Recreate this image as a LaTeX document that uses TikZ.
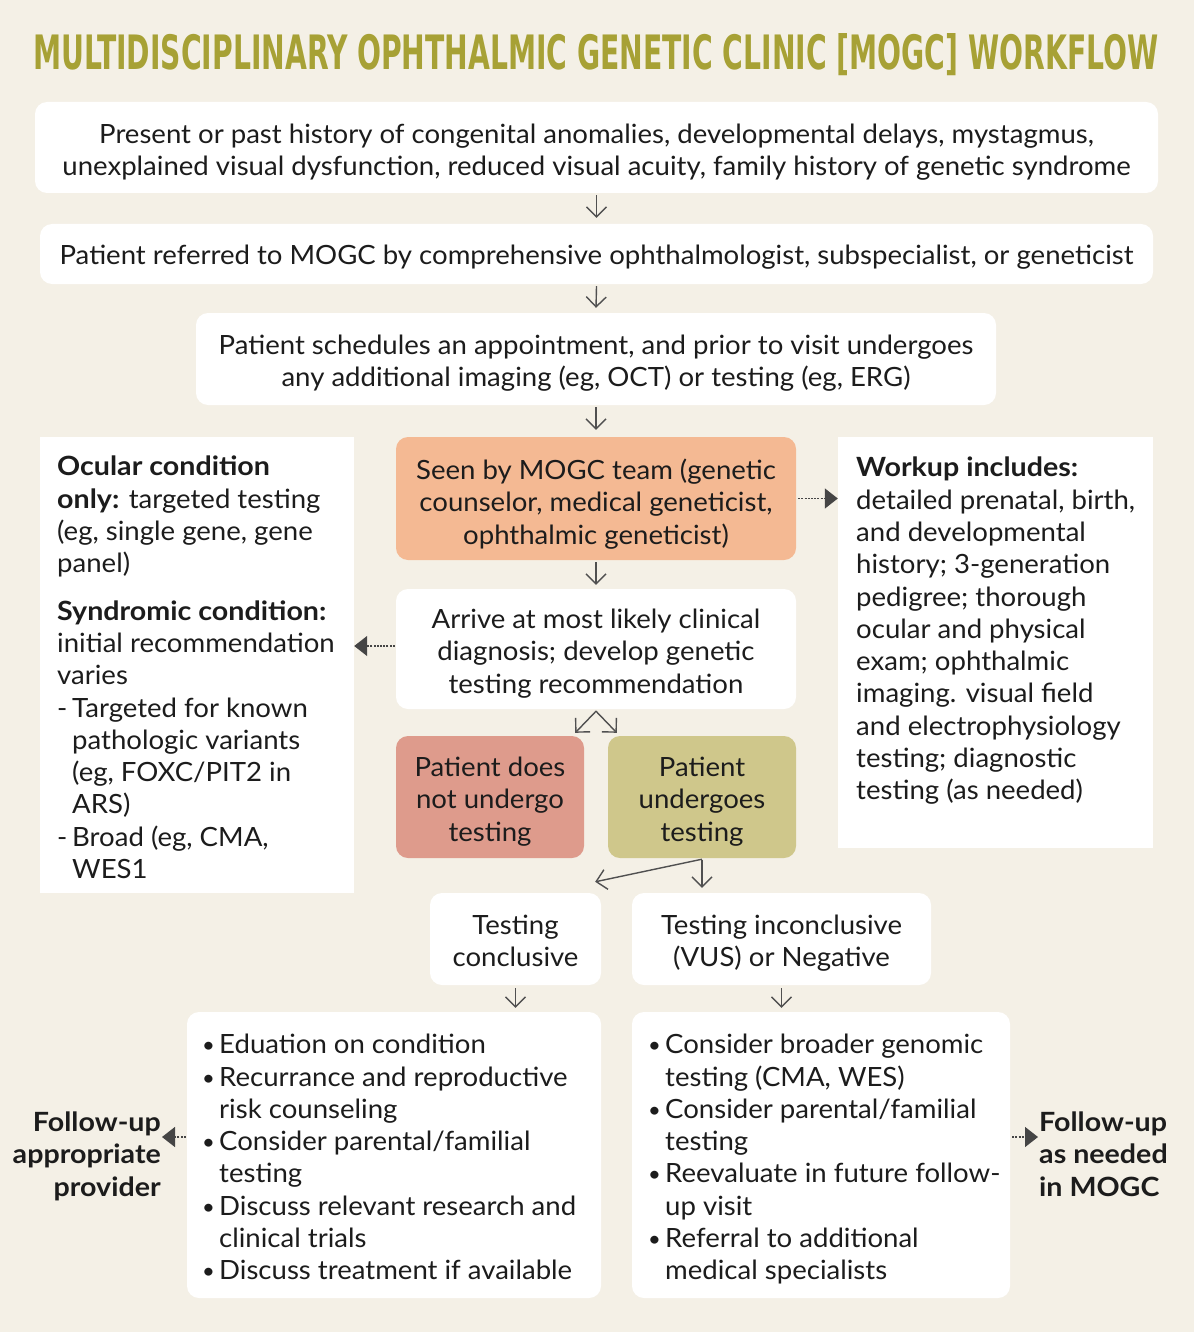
\documentclass[tikz,border=0pt]{standalone}
\usepackage{fontspec}
\setmainfont{Lato}[FakeStretch=1.04, BoldFeatures={FakeStretch=1.08}]
\newfontfamily\titlefont{DejaVu Sans Condensed}
\usetikzlibrary{arrows.meta}
\definecolor{bg}{HTML}{F4F0E6}
\definecolor{titlec}{HTML}{A7A135}
\definecolor{orangec}{HTML}{F4B993}
\definecolor{redc}{HTML}{DE9B8C}
\definecolor{olivec}{HTML}{CFC78B}
\definecolor{txt}{HTML}{1C1C1C}
\definecolor{agray}{HTML}{505050}
\definecolor{dgray}{HTML}{454545}
\newcommand{\bitem}[1]{\makebox[15pt][l]{\hspace{-2pt}\raisebox{1pt}{\scalebox{0.8}{\textbullet}}}#1}
\newcommand{\bcont}[1]{\hspace*{15pt}#1}
\newcommand{\ditem}[1]{\makebox[15pt][l]{-}#1}
\newcommand{\topstrut}{\rule{0pt}{28pt}}
\newcommand{\botstrut}{\rule[-10pt]{0pt}{10pt}}
\begin{document}
\begin{tikzpicture}[x=1pt,y=-1pt,
  struts/.style={execute at begin node=\topstrut, execute at end node=\botstrut},
  box/.style={fill=white, rounded corners=12pt, inner sep=0pt},
  btxt/.style={inner sep=0pt, align=center, text=txt, struts},
  sqbox/.style={fill=white, inner sep=0pt},
  txtnode/.style={inner sep=0pt, text=txt, struts},
  arr/.style={draw=agray, line width=1.4pt, -{Straight Barb[length=10pt,width=20pt,line width=1.4pt]}},
  darr/.style={draw=dgray, line width=1.4pt, dash pattern=on 2pt off 1.2pt, -{Triangle[length=13pt,width=20pt]}},
  font=\fontsize{26.5}{32.3}\selectfont]
\fill[bg] (0,0) rectangle (1194,1332);
\useasboundingbox (0,0) rectangle (1194,1332);

\node[anchor=base, text=titlec, inner sep=0pt] (title) at (596,70)
  {\resizebox{1125pt}{36pt}{\titlefont\bfseries MULTIDISCIPLINARY OPHTHALMIC GENETIC CLINIC [MOGC] WORKFLOW}};

\node[box, minimum width=1123pt, minimum height=91pt] (b1) at (596.5,147.5) {};
\node[btxt] (b1t) at ([yshift=-7pt]b1.center)
  {Present or past history of congenital anomalies, developmental delays, mystagmus,\\unexplained visual dysfunction, reduced visual acuity, family history of genetic syndrome};
\node[box, minimum width=1113pt, minimum height=60pt] (b2) at (596.5,254) {};
\node[btxt] (b2t) at ([yshift=-2pt]b2.center)
  {Patient referred to MOGC by comprehensive ophthalmologist, subspecialist, or geneticist};
\node[box, minimum width=800pt, minimum height=92pt] (b3) at (596,359) {};
\node[btxt] (b3t) at ([yshift=-7pt]b3.center)
  {Patient schedules an appointment, and prior to visit undergoes\\any additional imaging (eg, OCT) or testing (eg, ERG)};

\node[sqbox, minimum width=314pt, minimum height=456pt] (left) at (197,665) {};
\node[txtnode, anchor=north west, align=left] (lefttext) at (57,456)
  {\textbf{Ocular condition}\\\textbf{only:} targeted testing\\(eg, single gene, gene\\panel)\\[15pt]
   \textbf{Syndromic condition:}\\initial recommendation\\varies\\\ditem{Targeted for known}\\\bcont{pathologic variants}\\\bcont{(eg, FOXC/PIT2 in}\\\bcont{ARS)}\\\ditem{Broad (eg, CMA,}\\\bcont{WES1}};

\node[box, fill=orangec, minimum width=400pt, minimum height=123pt] (seen) at (596,498.5) {};
\node[btxt] (seent) at ([yshift=-8pt]seen.center)
  {Seen by MOGC team (genetic\\counselor, medical geneticist,\\ophthalmic geneticist)};

\node[sqbox, minimum width=315pt, minimum height=411pt] (right) at (995.5,642.5) {};
\node[txtnode, anchor=north west, align=left] (righttext) at (856,457)
  {\textbf{Workup includes:}\\detailed prenatal, birth,\\and developmental\\history; 3-generation\\pedigree; thorough\\ocular and physical\\exam; ophthalmic\\imaging. visual field\\and electrophysiology\\testing; diagnostic\\testing (as needed)};

\node[box, minimum width=400pt, minimum height=120pt] (arrive) at (596,649) {};
\node[btxt] (arrivet) at ([yshift=-7pt]arrive.center)
  {Arrive at most likely clinical\\diagnosis; develop genetic\\testing recommendation};

\node[box, fill=redc, minimum width=188pt, minimum height=122pt] (no) at (490,797) {};
\node[btxt] (not) at ([yshift=-7pt]no.center) {Patient does\\not undergo\\testing};
\node[box, fill=olivec, minimum width=188pt, minimum height=122pt] (yes) at (702,797) {};
\node[btxt] (yest) at ([yshift=-7pt]yes.center) {Patient\\undergoes\\testing};

\node[box, minimum width=171pt, minimum height=92pt] (concl) at (515.5,939) {};
\node[btxt] (conclt) at ([yshift=-7pt]concl.center) {Testing\\conclusive};
\node[box, minimum width=299pt, minimum height=92pt] (incon) at (781.5,939) {};
\node[btxt] (incont) at ([yshift=-7pt]incon.center) {Testing inconclusive\\(VUS) or Negative};

\node[box, minimum width=414pt, minimum height=286pt] (bl) at (394,1155) {};
\node[txtnode, anchor=north west, align=left] (bltext) at (204,1034)
  {\bitem{Eduation on condition}\\\bitem{Recurrance and reproductive}\\\bcont{risk counseling}\\\bitem{Consider parental/familial}\\\bcont{testing}\\\bitem{Discuss relevant research and}\\\bcont{clinical trials}\\\bitem{Discuss treatment if available}};
\node[box, minimum width=378pt, minimum height=286pt] (br) at (821,1155) {};
\node[txtnode, anchor=north west, align=left] (brtext) at (650,1034)
  {\bitem{Consider broader genomic}\\\bcont{testing (CMA, WES)}\\\bitem{Consider parental/familial}\\\bcont{testing}\\\bitem{Reevaluate in future follow-}\\\bcont{up visit}\\\bitem{Referral to additional}\\\bcont{medical specialists}};

\node[txtnode, anchor=east, align=right, font=\fontsize{26.5}{32.3}\selectfont\bfseries, inner xsep=1pt] (fl) at (162,1159)
  {Follow-up\\appropriate\\provider};
\node[txtnode, anchor=west, align=left, font=\fontsize{26.5}{32.3}\selectfont\bfseries, inner xsep=1pt] (fr) at (1038,1159)
  {Follow-up\\as needed\\in MOGC};

% solid connectors
\draw[arr] ([yshift=-2pt]b1.south) -- ([yshift=6pt]b2.north);
\draw[arr] ([yshift=-2pt]b2.south) -- ([yshift=5pt]b3.north);
\draw[arr] ([yshift=-2pt]b3.south) -- ([yshift=7pt]seen.north);
\draw[arr] ([yshift=-2pt]seen.south) -- ([yshift=4pt]arrive.north);
\coordinate (split) at ([yshift=-2pt]arrive.south);
\draw[arr] (split) -- ([shift={(-9pt,3pt)}]no.north east);
\draw[arr] (split) -- ([shift={(9pt,3pt)}]yes.north west);
\draw[arr] ([yshift=-1pt]yes.south) -- ([shift={(-6pt,11pt)}]concl.north east);
\draw[arr] ([yshift=-2pt]yes.south) -- ([yshift=5pt]yes.south |- incon.north);
\draw[arr] ([yshift=-3pt]concl.south) -- ([yshift=4pt]concl.south |- bl.north);
\draw[arr] ([yshift=-3pt]incon.south) -- ([yshift=4pt]incon.south |- br.north);

% dotted connectors
\draw[darr] ([xshift=2pt]seen.east) -- (seen.east -| right.west);
\draw[darr] ([shift={(-1pt,3pt)}]arrive.west) -- ([yshift=3pt]arrive.west -| left.east);
\draw[darr] ([shift={(-1pt,18pt)}]bl.west) -- ([yshift=18pt]bl.west -| fl.east);
\draw[darr] ([shift={(2pt,18pt)}]br.east) -- ([yshift=18pt]br.east -| fr.west);
\end{tikzpicture}
\end{document}
